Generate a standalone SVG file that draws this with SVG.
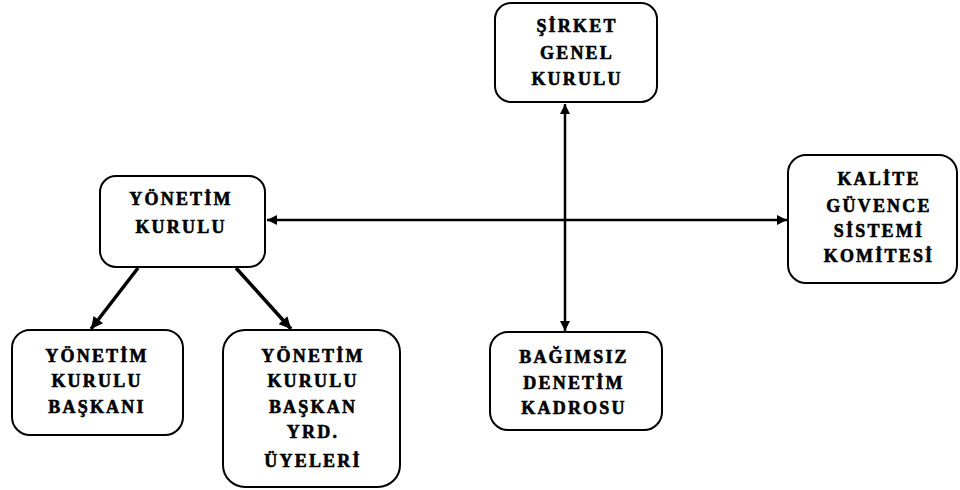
<svg xmlns="http://www.w3.org/2000/svg" width="960" height="490" viewBox="0 0 960 490">
<style>
.box{fill:#fff;stroke:#000;stroke-width:2}
.t{font-family:"Liberation Serif","Times New Roman",serif;font-weight:bold;font-size:18px;text-anchor:middle;fill:#000;stroke:#000;stroke-width:0.6;letter-spacing:2.2px}
.c{stroke:#000;stroke-width:2.5;fill:none}
.d{stroke:#000;stroke-width:3.5;fill:none}
</style>
<defs>
<marker id="ah" viewBox="0 0 10 10" refX="10" refY="5" markerWidth="4.5" markerHeight="4" orient="auto-start-reverse" markerUnits="strokeWidth">
<path d="M0,0 L10,5 L0,10 Z" fill="#000"/>
</marker>
<marker id="ah2" viewBox="0 0 10 10" refX="10" refY="5" markerWidth="3.6" markerHeight="3.4" orient="auto" markerUnits="strokeWidth">
<path d="M0,0 L10,5 L0,10 Z" fill="#000"/>
</marker>
</defs>
<rect width="960" height="490" fill="#fff"/>
<g id="connectors">
<line class="c" x1="565" y1="104" x2="565" y2="331" marker-start="url(#ah)" marker-end="url(#ah)"/>
<line class="c" x1="267" y1="220" x2="787" y2="220" marker-start="url(#ah)" marker-end="url(#ah)"/>
<line class="d" x1="138" y1="268" x2="91" y2="329" marker-end="url(#ah2)"/>
<line class="d" x1="236" y1="268" x2="291" y2="329" marker-end="url(#ah2)"/>
</g>
<g id="sirket">
<rect class="box" x="495" y="3" width="162" height="99" rx="16"/>
<text class="t" x="577" y="32">ŞİRKET</text>
<text class="t" x="577" y="59">GENEL</text>
<text class="t" x="577" y="85">KURULU</text>
</g>
<g id="yonetim">
<rect class="box" x="100" y="176" width="165" height="91" rx="16"/>
<text class="t" x="181" y="205">YÖNETİM</text>
<text class="t" x="181" y="233">KURULU</text>
</g>
<g id="kalite">
<rect class="box" x="788" y="155" width="169" height="128" rx="18"/>
<text class="t" x="879" y="185">KALİTE</text>
<text class="t" x="879" y="212">GÜVENCE</text>
<text class="t" x="879" y="237">SİSTEMİ</text>
<text class="t" x="879" y="262">KOMİTESİ</text>
</g>
<g id="baskan">
<rect class="box" x="12" y="330" width="171" height="105" rx="18"/>
<text class="t" x="97" y="362">YÖNETİM</text>
<text class="t" x="97" y="387">KURULU</text>
<text class="t" x="97" y="413">BAŞKANI</text>
</g>
<g id="baskanyrd">
<rect class="box" x="223" y="330" width="177" height="157" rx="22"/>
<text class="t" x="313" y="362">YÖNETİM</text>
<text class="t" x="313" y="387">KURULU</text>
<text class="t" x="313" y="413">BAŞKAN</text>
<text class="t" x="313" y="438">YRD.</text>
<text class="t" x="313" y="467">ÜYELERİ</text>
</g>
<g id="bagimsiz">
<rect class="box" x="490" y="332" width="172" height="98" rx="18"/>
<text class="t" x="574" y="363">BAĞIMSIZ</text>
<text class="t" x="574" y="389">DENETİM</text>
<text class="t" x="574" y="414">KADROSU</text>
</g>
</svg>
